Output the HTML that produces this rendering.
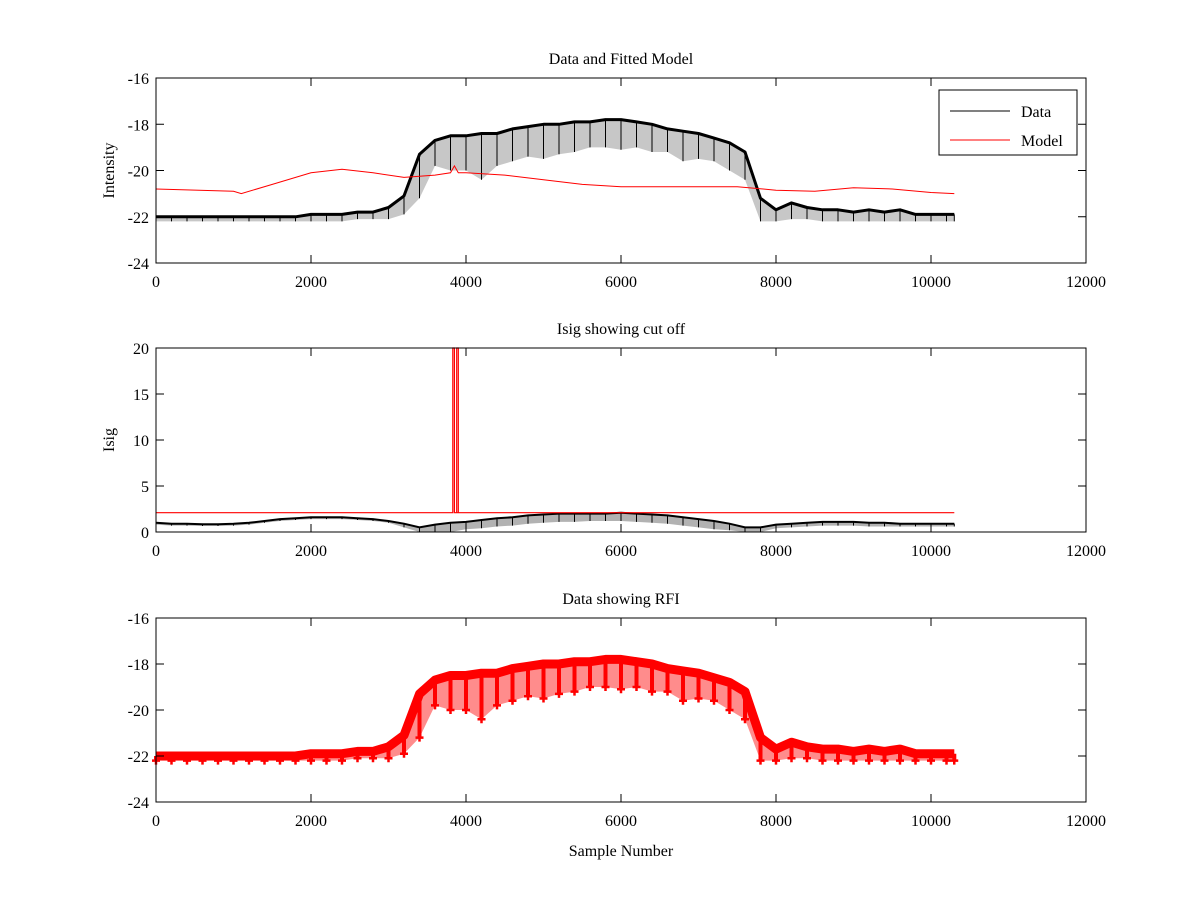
<!DOCTYPE html>
<html><head><meta charset="utf-8"><style>
body{margin:0;background:#fff}
svg{display:block}
text{font-family:"Liberation Serif",serif;font-size:16px;fill:#000}
</style></head><body>
<svg id="fig" width="1200" height="900"></svg>
<script>
const xs=[0,200,400,600,800,1000,1200,1400,1600,1800,2000,2200,2400,2600,2800,3000,3200,3400,3600,3800,4000,4200,4400,4600,4800,5000,5200,5400,5600,5800,6000,6200,6400,6600,6800,7000,7200,7400,7600,7800,8000,8200,8400,8600,8800,9000,9200,9400,9600,9800,10000,10200,10300];
const dataUpper=[-22.0,-22.0,-22.0,-22.0,-22.0,-22.0,-22.0,-22.0,-22.0,-22.0,-21.9,-21.9,-21.9,-21.8,-21.8,-21.6,-21.1,-19.3,-18.7,-18.5,-18.5,-18.4,-18.4,-18.2,-18.1,-18.0,-18.0,-17.9,-17.9,-17.8,-17.8,-17.9,-18.0,-18.2,-18.3,-18.4,-18.6,-18.8,-19.2,-21.2,-21.7,-21.4,-21.6,-21.7,-21.7,-21.8,-21.7,-21.8,-21.7,-21.9,-21.9,-21.9,-21.9];
const dataLower=[-22.2,-22.2,-22.2,-22.2,-22.2,-22.2,-22.2,-22.2,-22.2,-22.2,-22.2,-22.2,-22.2,-22.1,-22.1,-22.1,-21.9,-21.2,-19.8,-20.0,-20.0,-20.4,-19.8,-19.6,-19.4,-19.5,-19.3,-19.2,-19.0,-19.0,-19.1,-19.0,-19.2,-19.2,-19.6,-19.5,-19.6,-20.0,-20.4,-22.2,-22.2,-22.1,-22.1,-22.2,-22.2,-22.2,-22.2,-22.2,-22.2,-22.2,-22.2,-22.2,-22.2];
const modelX=[0,1000,1100,1500,2000,2400,2800,3200,3600,3800,3850,3900,4000,4500,5000,5500,6000,7000,7500,8000,8500,9000,9500,10000,10300];
const modelY=[-20.8,-20.9,-21.0,-20.6,-20.1,-19.95,-20.1,-20.3,-20.2,-20.1,-19.8,-20.1,-20.1,-20.2,-20.4,-20.6,-20.7,-20.7,-20.7,-20.85,-20.9,-20.75,-20.8,-20.95,-21.0];
const isigUpper=[1.0,0.9,0.9,0.85,0.85,0.9,1.0,1.2,1.4,1.5,1.6,1.6,1.6,1.5,1.4,1.2,0.9,0.5,0.8,1.0,1.1,1.3,1.5,1.6,1.8,1.9,2.0,2.0,2.0,2.0,2.1,2.0,1.9,1.8,1.6,1.4,1.2,0.9,0.5,0.5,0.8,0.9,1.0,1.1,1.1,1.1,1.0,1.0,0.9,0.9,0.9,0.9,0.9];
const isigLower=[0.8,0.7,0.7,0.65,0.65,0.7,0.8,1.0,1.2,1.3,1.4,1.4,1.4,1.3,1.2,1.0,0.5,0.0,0.0,0.0,0.3,0.4,0.6,0.7,0.9,1.0,1.1,1.1,1.2,1.2,1.2,1.1,1.0,0.9,0.7,0.5,0.3,0.2,0.0,0.0,0.4,0.5,0.6,0.7,0.7,0.7,0.6,0.6,0.6,0.6,0.6,0.6,0.6];
const cutX=[0,3830,3830,3850,3850,3900,3900,10300];
const cutY=[2.1,2.1,20,20,2.1,2.1,2.1,2.1];
const cutSpikeX=[3880,3880,3900,3900];
const cutSpikeY=[2.1,20,20,2.1];
const xTicks=[0,2000,4000,6000,8000,10000,12000];
const intTicks=[-16,-18,-20,-22,-24];
const isigTicks=[0,5,10,15,20];

const NS="http://www.w3.org/2000/svg";
const fig=document.getElementById('fig');
function el(tag,attrs,parent){const e=document.createElementNS(NS,tag);for(const k in attrs)e.setAttribute(k,attrs[k]);(parent||fig).appendChild(e);return e;}
const X0=156,X1=1086;
function sx(v){return X0+(v/12000)*(X1-X0);}
function makeAxes(top,bot,ymin,ymax,yTicks,title,ylabel,name){
  const g=el('g',{});
  
  
  const sy=v=>bot-(v-ymin)/(ymax-ymin)*(bot-top);
  el('rect',{x:X0,y:top,width:X1-X0,height:bot-top,fill:'#fff',stroke:'none'},g);
  return {g,sy,top,bot,finish(){
    el('rect',{x:X0,y:top,width:X1-X0,height:bot-top,fill:'none',stroke:'#000','stroke-width':1},g);
    xTicks.forEach(t=>{const x=sx(t);
      el('line',{x1:x,x2:x,y1:bot,y2:bot-8,stroke:'#000'},g);
      el('line',{x1:x,x2:x,y1:top,y2:top+8,stroke:'#000'},g);
      const tx=el('text',{x:x,y:bot+24,'text-anchor':'middle'},g);tx.textContent=t;
      
      });
    yTicks.forEach(t=>{const y=sy(t);
      el('line',{x1:X0,x2:X0+8,y1:y,y2:y,stroke:'#000'},g);
      el('line',{x1:X1,x2:X1-8,y1:y,y2:y,stroke:'#000'},g);
      const tx=el('text',{x:X0-7,y:y+6,'text-anchor':'end'},g);tx.textContent=t;
      
      });
    const tt=el('text',{x:(X0+X1)/2,y:top-14,'text-anchor':'middle'},g);tt.textContent=title;
    
    
    if(ylabel){const cy=(top+bot)/2;const yl=el('text',{x:0,y:0,'text-anchor':'middle',transform:`translate(${X0-42},${cy}) rotate(-90)`},g);yl.textContent=ylabel;
      
      }
  }};
}
function poly(xa,ya,sy){return xa.map((x,i)=>sx(x).toFixed(1)+','+sy(ya[i]).toFixed(1)).join(' ');}
function band(xa,up,lo,sy){return xa.map((x,i)=>sx(x).toFixed(1)+','+sy(up[i]).toFixed(1)).join(' ')+' '+xa.map((x,i)=>sx(x).toFixed(1)+','+sy(lo[i]).toFixed(1)).reverse().join(' ');}
function dips(xa,up,lo,sy){return xa.map((x,i)=>`M${sx(x).toFixed(1)},${sy(up[i]).toFixed(1)}V${sy(lo[i]).toFixed(1)}`).join('');}

// Axes 1
const a1=makeAxes(78,263,-24,-16,intTicks,'Data and Fitted Model','Intensity','data-model-axes');
let b=el('polygon',{points:band(xs,dataUpper,dataLower,a1.sy),fill:'#000','fill-opacity':0.22,stroke:'none'},a1.g);


let l=el('path',{d:dips(xs,dataUpper,dataLower,a1.sy),fill:'none',stroke:'#000','stroke-width':1},a1.g);


l=el('polyline',{points:poly(xs,dataUpper,a1.sy),fill:'none',stroke:'#000','stroke-width':3,'stroke-linejoin':'round'},a1.g);


l=el('polyline',{points:poly(modelX,modelY,a1.sy),fill:'none',stroke:'#f00','stroke-width':1},a1.g);


a1.finish();
const lg=el('g',{});


el('rect',{x:939,y:90,width:138,height:65,fill:'#fff',stroke:'#000'},lg);
el('line',{x1:950,x2:1010,y1:111,y2:111,stroke:'#000'},lg);
let t=el('text',{x:1021,y:117},lg);t.textContent='Data';


el('line',{x1:950,x2:1010,y1:140,y2:140,stroke:'#f00'},lg);
t=el('text',{x:1021,y:146},lg);t.textContent='Model';



// Axes 2
const a2=makeAxes(348,532,0,20,isigTicks,'Isig showing cut off','Isig','isig-axes');
b=el('polygon',{points:band(xs,isigUpper,isigLower,a2.sy),fill:'#000','fill-opacity':0.3,stroke:'none'},a2.g);


l=el('path',{d:dips(xs,isigUpper,isigLower,a2.sy),fill:'none',stroke:'#000','stroke-width':1},a2.g);


l=el('polyline',{points:poly(xs,isigUpper,a2.sy),fill:'none',stroke:'#000','stroke-width':2},a2.g);


l=el('polyline',{points:poly(cutX,cutY,a2.sy),fill:'none',stroke:'#f00','stroke-width':1.2},a2.g);


l=el('polyline',{points:poly(cutSpikeX,cutSpikeY,a2.sy),fill:'none',stroke:'#f00','stroke-width':1.2},a2.g);


a2.finish();

// Axes 3
const a3=makeAxes(618,802,-24,-16,intTicks,'Data showing RFI',null,'rfi-axes');
b=el('polygon',{points:band(xs,dataUpper,dataLower,a3.sy),fill:'#f00','fill-opacity':0.45,stroke:'none'},a3.g);


l=el('path',{d:dips(xs,dataUpper,dataLower,a3.sy),fill:'none',stroke:'#f00','stroke-width':4},a3.g);


l=el('polyline',{points:poly(xs,dataUpper,a3.sy),fill:'none',stroke:'#f00','stroke-width':9,'stroke-linejoin':'round'},a3.g);


xs.forEach((x,i)=>{
  const m=el('path',{d:`M${sx(x)-4},${a3.sy(dataLower[i])}h8M${sx(x)},${a3.sy(dataLower[i])-4}v8`,stroke:'#f00','stroke-width':2.5},a3.g);
  
  
});
a3.finish();
t=el('text',{x:(X0+X1)/2,y:856,'text-anchor':'middle'});t.textContent='Sample Number';


</script>
</body></html>
